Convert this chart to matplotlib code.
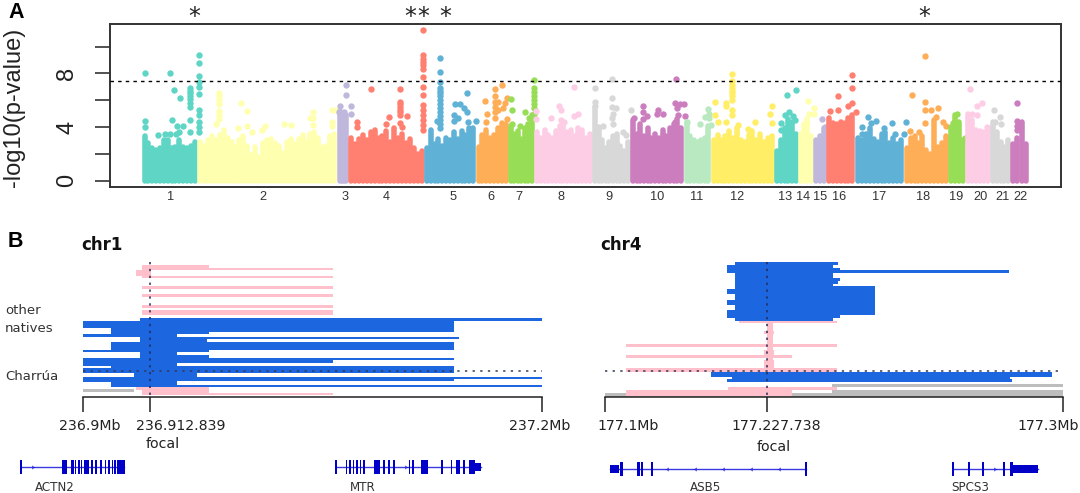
import numpy as np
import matplotlib
matplotlib.use('Agg')
import matplotlib.pyplot as plt

W, H = 1080, 493

# ---- panel A: genome positions are on the picture's own horizontal scale
chrom_edges = [141.9, 197.3, 336.8, 348.5, 424.2, 475.9, 508.3, 534.4, 592.3, 630.2, 683.9,
               711.1, 774.5, 798.3, 813.4, 826.2, 855.1, 904.0, 948.4, 965.3, 990.4, 1010.7, 1028.3]
chrom_labels = [str(i) for i in range(1, 23)]
chrom_label_pos = [170.5, 263.4, 345.4, 386.4, 453.5, 490.4, 519.3, 560.7, 608.9, 657.0, 697.0,
                   737.3, 785.2, 802.7, 820.6, 838.9, 878.8, 923.3, 956.0, 980.8, 1002.0, 1020.4]
chrom_colors = ['#5fd5c5', '#ffffb0', '#bfb8dc', '#ff7f70', '#60b1d6', '#ffae58', '#97dd55', '#fdcde6',
                '#d8d8d8', '#cb7dbe', '#b9e9c0', '#ffee66', '#5fd5c5', '#ffffb0', '#bfb8dc', '#ff7f70',
                '#60b1d6', '#ffae58', '#97dd55', '#fdcde6', '#d8d8d8', '#cb7dbe']

# top of the dense cloud along each chromosome
cloud = [
    [3.3, 2.8, 2.4, 2.3, 2.4, 3.0, 3.0, 2.4, 2.5, 3.0, 2.5, 2.4, 2.6, 2.9],
    [2.9, 2.6, 3.0, 3.3, 3.0, 3.4, 3.8, 3.2, 2.9, 2.5, 3.0, 3.3, 2.6, 1.9, 2.5, 1.8, 2.8, 3.0,
     3.1, 2.8, 2.6, 2.1, 2.9, 3.1, 2.7, 3.1, 3.4, 2.9, 3.5, 3.6, 3.2, 2.5, 2.6, 3.3, 3.5],
    [5.2, 4.6, 3.8, 4.9],
    [3.2, 2.7, 3.1, 3.4, 3.0, 3.6, 3.8, 3.2, 3.3, 3.7, 2.9, 3.9, 3.2, 3.5, 2.8, 3.1, 2.4, 2.0, 2.2],
    [2.4, 3.8, 2.7, 3.1, 2.6, 3.2, 3.0, 3.6, 3.1, 3.7, 3.4, 3.9, 3.9],
    [2.5, 3.4, 3.8, 3.2, 3.4, 3.9, 4.3, 4.2],
    [4.1, 3.5, 3.7, 3.1, 3.9, 4.2, 4.9],
    [3.6, 3.2, 3.8, 3.4, 3.2, 3.7, 4.1, 4.3, 3.6, 3.8, 3.3, 3.9, 3.8, 3.2, 3.5],
    [5.5, 4.0, 3.0, 2.4, 2.9, 3.3, 3.5, 2.6, 2.2, 2.9],
    [4.5, 3.5, 4.2, 3.3, 3.9, 3.2, 3.5, 3.2, 3.8, 3.3, 3.9, 4.2, 4.6, 3.9],
    [4.4, 3.3, 3.0, 2.9, 3.0, 3.2, 4.1],
    [3.0, 3.4, 3.0, 3.3, 3.7, 3.2, 3.9, 3.0, 2.9, 3.4, 3.7, 3.0, 3.5, 2.9, 3.2, 3.3],
    [2.2, 3.0, 3.9, 4.6, 4.4, 3.5],
    [3.5, 4.2, 4.6, 3.3],
    [3.0, 3.3, 3.9],
    [4.7, 4.3, 4.2, 4.4, 4.3, 4.7, 4.9],
    [3.2, 3.0, 3.5, 3.9, 3.1, 2.9, 3.5, 3.6, 2.8, 3.2, 2.7, 3.0],
    [2.4, 3.2, 3.3, 2.8, 3.3, 2.3, 2.0, 4.5, 2.5, 2.8, 3.3],
    [4.0, 4.9, 4.4, 3.0],
    [5.0, 4.5, 3.8, 3.7, 3.6, 3.9],
    [4.4, 3.6, 2.9, 2.5, 3.0],
    [2.7, 3.2, 4.4, 2.7],
]

# single SNPs standing out of the cloud, (position, -log10 p)
hits = [
    [(145.3, 8.05), (169.8, 8.02), (173.9, 6.76), (180.1, 6.19), (189.7, 6.88), (189.7, 6.7), (189.7, 6.5),
     (189.7, 6.3), (189.7, 6.1), (189.7, 5.8), (189.7, 5.5), (189.7, 4.5), (190.3, 3.6), (198.7, 9.37),
     (198.7, 8.75), (198.7, 7.8), (198.7, 7.38), (198.7, 6.96), (198.7, 6.46), (198.7, 5.27), (198.7, 4.9),
     (198.7, 4.4), (198.7, 4.0), (198.7, 3.65), (145.3, 4.47), (145.3, 4.0), (172.2, 4.5), (177.3, 4.07),
     (182.5, 4.07), (157.7, 3.4), (164.6, 3.5), (170.4, 3.5), (175.6, 3.5), (179.1, 3.65)],
    [(219.0, 6.5), (219.0, 6.3), (219.0, 6.0), (219.0, 5.7), (219.0, 5.2), (219.0, 4.9), (219.0, 4.6),
     (216.0, 4.2), (241.0, 5.76), (246.6, 5.2), (237.6, 3.9), (246.9, 4.07), (252.4, 3.6), (265.2, 4.07),
     (261.7, 3.8), (283.7, 4.2), (291.0, 4.17), (312.7, 5.14), (310.0, 4.65), (313.4, 4.65), (312.7, 4.15),
     (332.3, 5.27), (335.7, 5.27), (331.6, 4.4), (331.6, 4.07)],
    [(346.0, 7.1), (346.0, 6.38), (340.0, 5.57), (339.2, 5.14), (350.5, 5.57), (350.5, 5.0), (344.0, 5.14),
     (341.0, 4.8)],
    [(371.2, 6.86), (399.8, 6.83), (399.8, 5.9), (399.8, 5.7), (399.8, 5.5), (399.8, 5.3), (399.8, 5.1),
     (399.8, 4.9), (399.8, 4.3), (407.4, 4.8), (389.1, 4.72), (357.4, 4.4), (357.4, 4.02), (422.9, 11.25),
     (422.9, 9.37), (422.9, 9.1), (422.9, 8.85), (422.9, 8.6), (422.9, 8.3), (422.9, 7.75), (422.9, 7.0),
     (422.9, 6.38), (422.9, 5.64), (422.9, 5.27), (422.9, 4.9), (422.9, 4.5), (422.9, 4.15), (422.9, 3.8),
     (385.7, 4.2), (402.0, 4.0)],
    [(440.1, 9.14), (440.1, 8.12), (440.1, 7.38), (440.1, 6.9), (440.1, 6.7), (440.1, 6.5), (440.1, 6.3),
     (440.1, 6.0), (440.1, 5.7), (440.1, 5.4), (440.1, 5.1), (440.1, 4.8), (440.1, 4.5), (440.1, 4.2),
     (440.1, 3.9), (467.3, 6.56), (455.2, 5.7), (459.7, 5.7), (463.8, 5.4), (467.3, 5.14), (453.9, 4.9),
     (458.0, 4.65), (453.9, 4.47), (437.3, 4.45), (467.6, 4.35), (476.0, 4.47)],
    [(502.0, 7.16), (494.8, 6.83), (494.8, 6.3), (484.5, 5.96), (486.6, 5.0), (494.8, 5.9), (494.8, 5.5),
     (494.8, 5.1), (494.8, 4.7), (497.6, 5.9), (497.6, 5.3), (506.9, 6.2), (504.8, 5.76), (502.5, 5.4),
     (486.0, 4.4), (507.0, 4.6)],
    [(533.8, 7.5), (533.8, 6.88), (533.8, 6.6), (533.8, 6.3), (533.8, 6.0), (533.8, 5.7), (533.8, 5.4),
     (533.8, 5.0), (510.7, 6.09), (512.0, 5.3), (525.1, 5.1), (528.6, 4.65), (512.4, 4.2), (520.0, 4.07)],
    [(574.4, 6.96), (558.9, 5.57), (560.7, 5.27), (551.4, 4.65), (577.9, 4.97), (574.4, 4.82), (561.3, 4.5),
     (564.1, 4.4), (536.0, 5.2), (536.0, 4.6)],
    [(612.3, 7.55), (595.1, 6.93), (595.1, 5.9), (595.1, 5.6), (612.3, 6.14), (612.3, 5.5), (615.8, 5.4),
     (612.3, 4.65), (631.3, 5.27), (603.0, 4.1), (622.6, 3.65), (626.1, 3.4), (613.0, 5.0), (613.0, 4.2)],
    [(676.4, 7.55), (675.0, 5.8), (679.5, 5.7), (683.9, 5.7), (676.7, 5.4), (642.6, 5.6), (657.8, 5.3),
     (657.1, 5.0), (662.9, 4.95), (646.8, 4.82), (634.0, 4.65), (677.7, 4.9), (684.6, 4.8), (642.6, 5.1),
     (642.6, 4.6), (675.0, 4.4)],
    [(707.7, 5.34), (708.7, 5.0), (704.6, 4.77), (708.7, 4.65), (687.4, 4.4), (700.1, 4.2), (710.5, 4.15)],
    [(731.8, 7.95), (731.8, 7.43), (731.8, 7.1), (731.8, 6.9), (731.8, 6.7), (731.8, 6.5), (731.8, 6.3),
     (731.8, 6.0), (714.9, 5.9), (726.0, 5.8), (726.0, 5.57), (772.4, 5.6), (714.9, 4.9), (769.7, 5.0),
     (731.8, 5.27), (731.8, 4.9), (755.2, 4.35), (772.4, 4.27), (738.0, 4.15), (718.0, 4.4), (726.0, 4.4),
     (748.3, 3.85)],
    [(795.5, 6.76), (786.6, 6.36), (788.6, 5.14), (784.5, 4.9), (793.1, 4.8), (794.8, 4.5), (781.0, 4.27),
     (781.0, 3.8)],
    [(808.3, 5.96), (814.4, 5.4), (808.6, 5.0), (813.8, 4.95)],
    [(821.7, 4.62), (825.1, 3.98)],
    [(852.0, 7.9), (852.0, 6.9), (838.2, 6.33), (852.0, 5.76), (847.5, 5.54), (838.2, 5.27), (830.3, 5.2),
     (856.1, 5.14)],
    [(867.5, 4.72), (876.1, 4.42), (891.9, 4.27), (906.0, 4.35), (862.3, 3.98), (862.3, 3.5), (870.6, 4.27),
     (884.4, 3.9), (894.7, 3.5), (904.3, 3.45)],
    [(925.3, 9.27), (911.6, 6.36), (925.3, 5.9), (925.3, 5.3), (931.2, 5.3), (938.1, 5.4), (936.0, 4.72),
     (925.3, 4.27), (942.9, 4.4), (946.3, 4.1), (910.2, 3.7), (918.7, 3.6)],
    [(957.4, 5.0), (955.0, 4.4), (953.3, 4.27), (965.3, 3.2)],
    [(970.1, 6.8), (981.5, 5.8), (977.3, 5.6), (977.3, 4.9), (972.2, 4.97), (987.0, 3.98)],
    [(994.2, 5.24), (999.7, 4.72), (1001.4, 4.2), (994.5, 4.35)],
    [(1017.3, 5.8), (1017.3, 4.47), (1017.3, 4.1), (1017.3, 3.8)],
]

y_ticks = [0, 2, 4, 6, 8, 10]
y_tick_labels = ['0', '', '4', '', '8', '']
threshold = 7.4
star_pos = [193.9, 410.0, 423.0, 445.0, 924.0]

# ---- panel B: haplotype segments, (top, bottom, start, end) on the picture's scale
pink = '#ffc0cb'
blue = '#1c66e0'
gray = '#bdbdbd'

chr1_pink = [(265.0, 267.7, 142.1, 208.9), (267.7, 270.0, 142.1, 332.9), (270.0, 275.7, 136.4, 150.7),
             (275.7, 278.3, 142.1, 332.9), (286.3, 288.7, 142.1, 332.9), (294.3, 296.7, 142.1, 332.9),
             (305.0, 307.7, 142.1, 332.9), (310.3, 315.3, 142.1, 332.9), (387.3, 390.0, 136.4, 208.9),
             (390.0, 392.7, 142.1, 208.9), (392.7, 395.0, 142.1, 332.9)]
chr1_blue = [(320.7, 386.7, 140.0, 176.7),
             (320.7, 328.3, 82.9, 140.0), (328.3, 334.0, 110.7, 140.0), (334.0, 336.7, 82.9, 140.0),
             (341.7, 349.7, 110.7, 140.0), (349.7, 352.3, 82.9, 140.0), (357.7, 365.7, 82.9, 140.0),
             (365.7, 368.3, 110.7, 140.0), (368.3, 373.3, 82.9, 140.0), (373.3, 376.7, 134.0, 140.0),
             (376.7, 381.7, 82.9, 140.0), (381.7, 386.7, 110.7, 140.0),
             (318.3, 320.7, 140.0, 541.8), (320.7, 331.7, 176.0, 454.3), (331.7, 334.0, 176.0, 208.9),
             (336.7, 339.3, 176.0, 458.9), (339.3, 341.7, 176.0, 207.0), (341.7, 350.0, 176.0, 454.3),
             (350.0, 351.7, 176.0, 208.9), (355.0, 357.7, 176.0, 208.9), (357.7, 360.0, 176.0, 454.3),
             (360.0, 362.7, 176.0, 332.9), (365.7, 373.3, 176.0, 454.3), (373.3, 376.7, 176.0, 197.1),
             (376.7, 380.7, 176.0, 454.3), (376.7, 379.0, 454.3, 541.8), (385.0, 386.7, 176.0, 541.8)]
chr1_gray = [(389.3, 392.0, 82.9, 133.9)]

chr4_gray = [(384.3, 387.0, 832.3, 1062.7), (389.7, 392.7, 832.3, 1062.7), (392.7, 396.7, 605.0, 1062.7)]
chr4_blue = [(262.3, 265.0, 735.0, 838.3), (265.0, 267.7, 727.0, 833.3), (267.7, 270.3, 727.0, 840.0),
             (270.3, 273.3, 727.0, 1009.3), (273.3, 278.3, 735.0, 833.3), (278.3, 281.0, 735.0, 840.0),
             (281.0, 284.3, 735.0, 838.3), (284.3, 286.3, 735.0, 833.3), (286.3, 289.0, 735.0, 874.7),
             (289.0, 294.0, 727.0, 874.7), (294.0, 299.7, 735.0, 874.7), (299.7, 304.7, 727.0, 874.7),
             (304.7, 310.3, 735.0, 874.7), (310.3, 315.0, 727.0, 874.7), (315.0, 318.0, 727.0, 840.0),
             (318.0, 320.7, 735.0, 833.3), (371.7, 376.7, 711.0, 1052.3), (376.7, 379.0, 731.7, 1010.0),
             (379.0, 381.7, 727.0, 1012.0)]
chr4_pink = [(320.7, 323.3, 739.3, 837.3), (323.3, 371.7, 766.7, 772.7), (331.0, 333.7, 764.3, 774.0),
             (344.3, 347.3, 626.0, 837.3), (350.0, 355.0, 764.3, 774.0), (355.0, 357.7, 626.0, 791.7),
             (360.0, 368.3, 764.3, 774.0), (368.3, 371.7, 626.0, 837.3), (387.0, 389.7, 728.3, 837.3),
             (389.7, 392.7, 626.0, 791.7), (392.7, 396.0, 626.0, 791.7)]

# bracket axes under the tracks: left, focal, right
chr1_ticks = [82.9, 149.5, 541.8]
chr4_ticks = [605.0, 767.3, 1062.7]
tick_text = [(89.5, '236.9Mb'), (181.0, '236.912.839'), (540.0, '237.2Mb'),
             (628.0, '177.1Mb'), (776.0, '177.227.738'), (1048.0, '177.3Mb')]

# genes: name, line start/end, exons, thick end blocks, strand arrows
actn2_line = (20.7, 124.3)
actn2_exons = [(62.0, 66.5), (71.6, 73.7), (75.0, 76.0), (78.5, 79.5), (81.0, 82.0), (84.4, 88.8), (91.3, 92.3),
               (95.7, 96.7), (99.9, 101.2), (105.0, 106.0), (108.5, 109.5), (112.0, 113.0), (114.3, 115.3),
               (117.0, 124.3), (20.4, 21.1)]
actn2_arrows = [32.7]
mtr_line = (335.7, 481.0)
mtr_exons = [(335.7, 336.8), (346.1, 347.0), (349.5, 350.4), (353.0, 353.9), (356.4, 357.3), (360.0, 361.0),
             (363.2, 365.0), (374.3, 380.0), (383.6, 384.6), (388.2, 389.1), (393.2, 394.2), (409.0, 410.0),
             (412.5, 413.5), (421.8, 428.0), (441.8, 442.7), (451.1, 452.0), (456.2, 459.7), (463.8, 464.7),
             (469.0, 474.5)]
mtr_blocks = [(474.5, 481.0)]
mtr_arrows = [405.8]
asb5_line = (609.9, 806.2)
asb5_exons = [(620.6, 622.6), (637.8, 639.9), (641.2, 642.6), (651.2, 653.0), (805.5, 806.9)]
asb5_blocks = [(609.9, 618.5)]
asb5_arrows = [666.7, 694.6, 722.5, 750.7, 779.0]
spcs3_line = (952.5, 1038.3)
spcs3_exons = [(952.5, 953.9), (968.7, 969.4), (982.5, 983.2), (1003.5, 1004.2), (1010.7, 1012.1)]
spcs3_blocks = [(1012.1, 1038.3)]
spcs3_arrows = [995.2]
gene_names = [(55.0, 'ACTN2'), (363.0, 'MTR'), (705.3, 'ASB5'), (970.4, 'SPCS3')]


def fx(x):
    return x / W


def fy(y):
    return 1 - y / H


fig = plt.figure(figsize=(W / 100, H / 100), dpi=100)

# ---- Manhattan plot
ax = fig.add_axes([fx(109.5), fy(187), (1061 - 109.5) / W, (187 - 24) / H])
ax.set_xlim(109.5, 1061)
ax.set_ylim(-0.47, 11.68)

for i in range(22):
    pos = np.linspace(chrom_edges[i] + 2.7, chrom_edges[i + 1] - 2.7, len(cloud[i]))
    ax.vlines(pos, 0, cloud[i], color=chrom_colors[i], lw=4.0, capstyle='round', zorder=2 + i * 0.01)
    ax.scatter([p[0] for p in hits[i]], [p[1] for p in hits[i]], s=21, color=chrom_colors[i],
               linewidths=0, zorder=2 + i * 0.01)

ax.axhline(threshold, color='black', lw=1.0, dashes=(2.5, 3), zorder=5)
ax.set_xticks([])
ax.set_yticks(y_ticks)
ax.set_yticklabels(y_tick_labels, rotation=90, va='center', fontsize=17,
                   family='Liberation Sans', color='#222222')
ax.tick_params(axis='y', length=10.5, width=1.2, color='#333333', pad=12)
for s in ax.spines.values():
    s.set_linewidth(1.4)
    s.set_color('#333333')

for x, lab in zip(chrom_label_pos, chrom_labels):
    fig.text(fx(x), fy(197), lab, ha='center', va='center', fontsize=9.2,
             family='Liberation Sans', color='#333333')
for x in star_pos:
    fig.text(fx(x), fy(17), '*', ha='center', va='center', fontsize=17,
             family='DejaVu Sans', color='#222222')

fig.text(fx(14), fy(107), '-log10(p-value)', rotation=90, ha='center', va='center', fontsize=17,
         family='Liberation Sans', color='#222222')
fig.text(fx(8), fy(12), 'A', fontsize=15.5, fontweight='bold', family='Liberation Sans', va='center')
fig.text(fx(8), fy(241), 'B', fontsize=15.5, fontweight='bold', family='Liberation Sans', va='center')

# ---- haplotype tracks, same scale as the picture
axb = fig.add_axes([0, 0, 1, 1])
axb.set_xlim(0, W)
axb.set_ylim(H, 0)
axb.axis('off')
axb.patch.set_alpha(0)


def draw_segments(segs, color, z):
    for top, bottom, start, end in segs:
        axb.barh((top + bottom) / 2, end - start, left=start, height=bottom - top, color=color,
                 linewidth=0, zorder=z)


draw_segments(chr1_gray, gray, 2)
draw_segments(chr1_pink, pink, 2)
draw_segments(chr1_blue, blue, 3)
draw_segments(chr4_gray, gray, 2)
draw_segments(chr4_pink, pink, 2)
draw_segments(chr4_blue, blue, 3)

# dotted crosshair at the focal site
for ticks in (chr1_ticks, chr4_ticks):
    axb.plot([ticks[1], ticks[1]], [262, 397], color='#222a55', lw=1.1, dashes=(1.5, 3), zorder=4)
    axb.plot([ticks[0], ticks[2]], [371, 371], color='#333a55', lw=1.1, dashes=(1.5, 3.5), zorder=4)
    axb.plot([ticks[0], ticks[2]], [397.3, 397.3], color='#222222', lw=1.1, zorder=4)
    axb.vlines(ticks, 397.3, 411.7, color='#222222', lw=1.1, zorder=4)

for x, lab in tick_text:
    axb.text(x, 426, lab, ha='center', va='center', fontsize=10.2, color='#222222')
axb.text(163, 444, 'focal', ha='center', va='center', fontsize=10.2, color='#222222')
axb.text(773.8, 447, 'focal', ha='center', va='center', fontsize=10.2, color='#222222')

axb.text(81.4, 245, 'chr1', fontweight='bold', fontsize=12, va='center', color='#111111')
axb.text(600, 245, 'chr4', fontweight='bold', fontsize=12, va='center', color='#111111')
axb.text(5, 311, 'other', fontsize=9.5, va='center', color='#333333')
axb.text(5, 328, 'natives', fontsize=9.5, va='center', color='#333333')
axb.text(5, 377, 'Charrúa', fontsize=9.5, va='center', color='#333333')


def draw_gene(line, exons, blocks, arrows, arrow, yc):
    axb.plot(line, [yc, yc], color='#3a3ae0', lw=1.0, zorder=2)
    for a, b in exons:
        axb.barh(yc, b - a + 0.8, left=a - 0.4, height=14, color='#0000c8', linewidth=0, zorder=3)
    for a, b in blocks:
        axb.barh(yc, b - a, left=a, height=8, color='#0000c8', linewidth=0, zorder=3)
    axb.plot(arrows, [yc] * len(arrows), linestyle='none', marker=arrow, ms=3, mfc='none',
             mec='#2222dd', mew=0.7, zorder=3)


draw_gene(actn2_line, actn2_exons, [], actn2_arrows, '4', 467.3)
draw_gene(mtr_line, mtr_exons, mtr_blocks, mtr_arrows, '4', 467.3)
draw_gene(asb5_line, asb5_exons, asb5_blocks, asb5_arrows, '3', 469)
draw_gene(spcs3_line, spcs3_exons, spcs3_blocks, spcs3_arrows, '4', 469)

for x, lab in gene_names:
    axb.text(x, 487.5, lab, ha='center', va='center', fontsize=8.6, color='#333333')

fig.savefig('out.png', dpi=100)
